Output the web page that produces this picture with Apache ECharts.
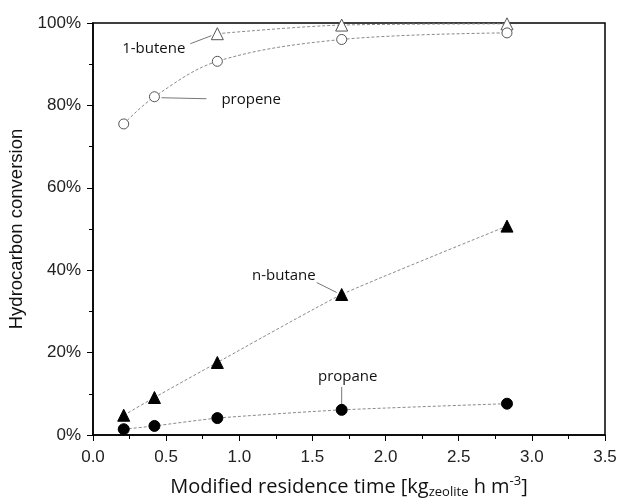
<!DOCTYPE html>
<html>
<head>
<meta charset="utf-8">
<script src="https://cdn.jsdelivr.net/npm/echarts@6/dist/echarts.min.js"></script>
<style>
html, body { margin: 0; padding: 0; background: #fff; }
#chart { width: 619px; height: 502px; }
</style>
</head>
<body>
<div id="chart"></div>
<script>
// residence time [kg_zeolite h m^-3]
var timeAll = [0.21, 0.42, 0.85, 1.70, 2.83];
var timeButene = [0.85, 1.70, 2.83];
// conversion in %
var butene1 = [97.4, 99.5, 99.8];
var propene = [75.5, 82.1, 90.7, 96.0, 97.6];
var nButane = [4.8, 9.1, 17.6, 34.1, 50.7];
var propane = [1.4, 2.2, 4.1, 6.1, 7.6];

function pairs(xs, ys) {
	var out = [];
	for (var i = 0; i < xs.length; i++) {
		out.push([xs[i], ys[i]]);
	}
	return out;
}

var lineStyle = { color: '#8a8a8a', width: 1, type: [3, 2] };

function makeSeries(name, xs, ys, symbol, filled, size, smooth) {
	return {
		name: name,
		type: 'line',
		data: pairs(xs, ys),
		smooth: smooth,
		symbol: symbol,
		symbolSize: size,
		lineStyle: lineStyle,
		itemStyle: {
			color: filled ? '#000' : '#fff',
			borderColor: filled ? '#000' : '#555',
			borderWidth: 1
		},
		z: 3
	};
}

var chart = echarts.init(document.getElementById('chart'));
chart.setOption({
	animation: false,
	backgroundColor: '#fff',
	grid: {
		left: 93, right: 14, top: 23, bottom: 67,
		outerBoundsMode: 'none', containLabel: false,
		show: true, borderColor: '#000', borderWidth: 1.5
	},
	xAxis: {
		type: 'value', min: 0, max: 3.5, interval: 0.5,
		name: '{n|Modified residence time [kg}{sub|zeolite}{n| h m}{sup|-3}{n|]}',
		nameLocation: 'middle', nameGap: 40,
		nameTextStyle: {
			rich: {
				n: { fontFamily: 'Open Sans', fontSize: 20, color: '#111' },
				sub: { fontFamily: 'Open Sans', fontSize: 13, color: '#111', verticalAlign: 'bottom', padding: [11, 0, 0, 0] },
				sup: { fontFamily: 'Open Sans', fontSize: 13, color: '#111', verticalAlign: 'top', padding: [0, 0, 9, 0] }
			}
		},
		axisLine: { onZero: false, lineStyle: { color: '#000', width: 1.5 } },
		axisTick: { inside: false, length: 6, lineStyle: { color: '#000' } },
		minorTick: { show: true, splitNumber: 2, length: 4, lineStyle: { color: '#000' } },
		splitLine: { show: false },
		axisLabel: {
			margin: 14, fontFamily: 'Liberation Sans', fontSize: 17, color: '#222',
			formatter: function (v) { return v.toFixed(1); }
		}
	},
	yAxis: {
		type: 'value', min: 0, max: 100, interval: 20,
		name: 'Hydrocarbon conversion',
		nameLocation: 'middle', nameGap: 57,
		nameTextStyle: { fontFamily: 'Liberation Sans', fontSize: 18.5, color: '#111' },
		axisLine: { onZero: false, lineStyle: { color: '#000', width: 1.5 } },
		axisTick: { inside: false, length: 6, lineStyle: { color: '#000' } },
		minorTick: { show: true, splitNumber: 2, length: 4, lineStyle: { color: '#000' } },
		splitLine: { show: false },
		axisLabel: { margin: 12, fontFamily: 'Liberation Sans', fontSize: 17, color: '#222', formatter: '{value}%' }
	},
	series: [
		makeSeries('1-butene', timeButene, butene1, 'triangle', false, 12, 0.3),
		makeSeries('propene', timeAll, propene, 'circle', false, 10, 0.35),
		makeSeries('n-butane', timeAll, nButane, 'triangle', true, 12, 0.15),
		makeSeries('propane', timeAll, propane, 'circle', true, 11, 0.2)
	]
});

// labels with leader lines, placed relative to a data point
var notes = [
	{ text: '1-butene', pt: [timeButene[0], butene1[0]], l1: [-6, 2], l2: [-27, 10], t: [-32, 15], align: 'right' },
	{ text: 'propene', pt: [timeAll[1], propene[1]], l1: [7, 1], l2: [52, 2], t: [67, 3], align: 'left' },
	{ text: 'n-butane', pt: [timeAll[3], nButane[3]], l1: [-5, -2], l2: [-25, -12], t: [-26, -19], align: 'right' },
	{ text: 'propane', pt: [timeAll[3], propane[3]], l1: [0, -5], l2: [0, -23], t: [6, -33], align: 'center' }
];
var elements = [];
notes.forEach(function (n) {
	var p = chart.convertToPixel({ gridIndex: 0 }, n.pt);
	elements.push({
		type: 'line',
		shape: { x1: p[0] + n.l1[0], y1: p[1] + n.l1[1], x2: p[0] + n.l2[0], y2: p[1] + n.l2[1] },
		style: { stroke: '#777', lineWidth: 1 },
		z: 2
	});
	elements.push({
		type: 'text',
		x: p[0] + n.t[0], y: p[1] + n.t[1],
		style: {
			text: n.text, fill: '#111', fontFamily: 'Open Sans', fontSize: 15,
			align: n.align, verticalAlign: 'middle'
		},
		z: 4
	});
});
chart.setOption({ graphic: elements });
</script>
</body>
</html>
